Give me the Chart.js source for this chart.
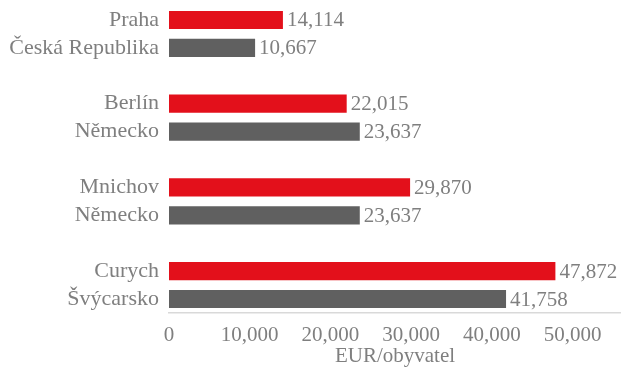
<!DOCTYPE html>
<html>
<head>
<meta charset="utf-8">
<script src="https://cdn.jsdelivr.net/npm/chart.js@4/dist/chart.umd.min.js"></script>
<style>
  html, body { margin: 0; padding: 0; background: #fff; }
  #wrap { width: 621px; height: 372px; }
</style>
</head>
<body>
<div id="wrap"><canvas id="chart"></canvas></div>
<script>
// data
const cities = ['Praha', 'Berlín', 'Mnichov', 'Curych'];
const cityValues = [14114, 22015, 29870, 47872];
const countries = ['Česká Republika', 'Německo', 'Německo', 'Švýcarsko'];
const countryValues = [10667, 23637, 23637, 41758];
const xTicks = [0, 10000, 20000, 30000, 40000, 50000];
const axisTitle = 'EUR/obyvatel';

const RED = '#e3101b';
const GREY = '#606060';
const TEXT = '#7f7f7f';
const FONT = "'Liberation Serif', 'Times New Roman', serif";

// pairs with an empty row between them
const labels = [];
const values = [];
const colors = [];
cities.forEach((c, i) => {
    if (i > 0) { labels.push(''); values.push(null); colors.push(RED); }
    labels.push(c); values.push(cityValues[i]); colors.push(RED);
    labels.push(countries[i]); values.push(countryValues[i]); colors.push(GREY);
});

const valueLabels = {
    id: 'valueLabels',
    afterDatasetsDraw(chart) {
        const ctx = chart.ctx;
        const meta = chart.getDatasetMeta(0);
        ctx.save();
        ctx.font = '21px ' + FONT;
        ctx.fillStyle = TEXT;
        ctx.textAlign = 'left';
        ctx.textBaseline = 'middle';
        meta.data.forEach((bar, i) => {
            const v = values[i];
            if (v == null) return;
            ctx.fillText(v.toLocaleString('en-US'), bar.x + 4, bar.y + 1);
        });
        ctx.restore();
    }
};

new Chart(document.getElementById('chart'), {
    type: 'bar',
    data: {
        labels: labels,
        datasets: [{
            data: values,
            backgroundColor: colors,
            barPercentage: 0.65,
            categoryPercentage: 1
        }]
    },
    options: {
        indexAxis: 'y',
        responsive: true,
        maintainAspectRatio: false,
        animation: false,
        layout: { padding: { top: 6, right: 0, left: 0, bottom: 0 } },
        plugins: {
            legend: { display: false },
            tooltip: { enabled: false }
        },
        scales: {
            x: {
                min: 0,
                max: 56000,
                afterBuildTicks: (scale) => {
                    scale.ticks = xTicks.map(v => ({ value: v }));
                },
                afterFit: (scale) => { scale.height = 59; },
                grid: { display: false, drawTicks: false },
                border: { display: true, color: '#d9d9d9', width: 1.5 },
                ticks: {
                    color: TEXT,
                    padding: 10,
                    maxRotation: 0,
                    font: { family: FONT, size: 21 },
                    callback: (v) => Number(v).toLocaleString('en-US')
                },
                title: {
                    display: true,
                    text: axisTitle,
                    color: TEXT,
                    padding: { top: 0, bottom: 3 },
                    font: { family: FONT, size: 21 }
                }
            },
            y: {
                afterFit: (scale) => {
                    scale.width = 169;
                    scale.paddingTop = 0;
                    scale.paddingBottom = 0;
                },
                grid: { display: false, drawTicks: false },
                border: { display: false },
                ticks: {
                    color: TEXT,
                    padding: 10,
                    autoSkip: false,
                    font: { family: FONT, size: 22 }
                }
            }
        }
    },
    plugins: [valueLabels]
});
</script>
</body>
</html>
